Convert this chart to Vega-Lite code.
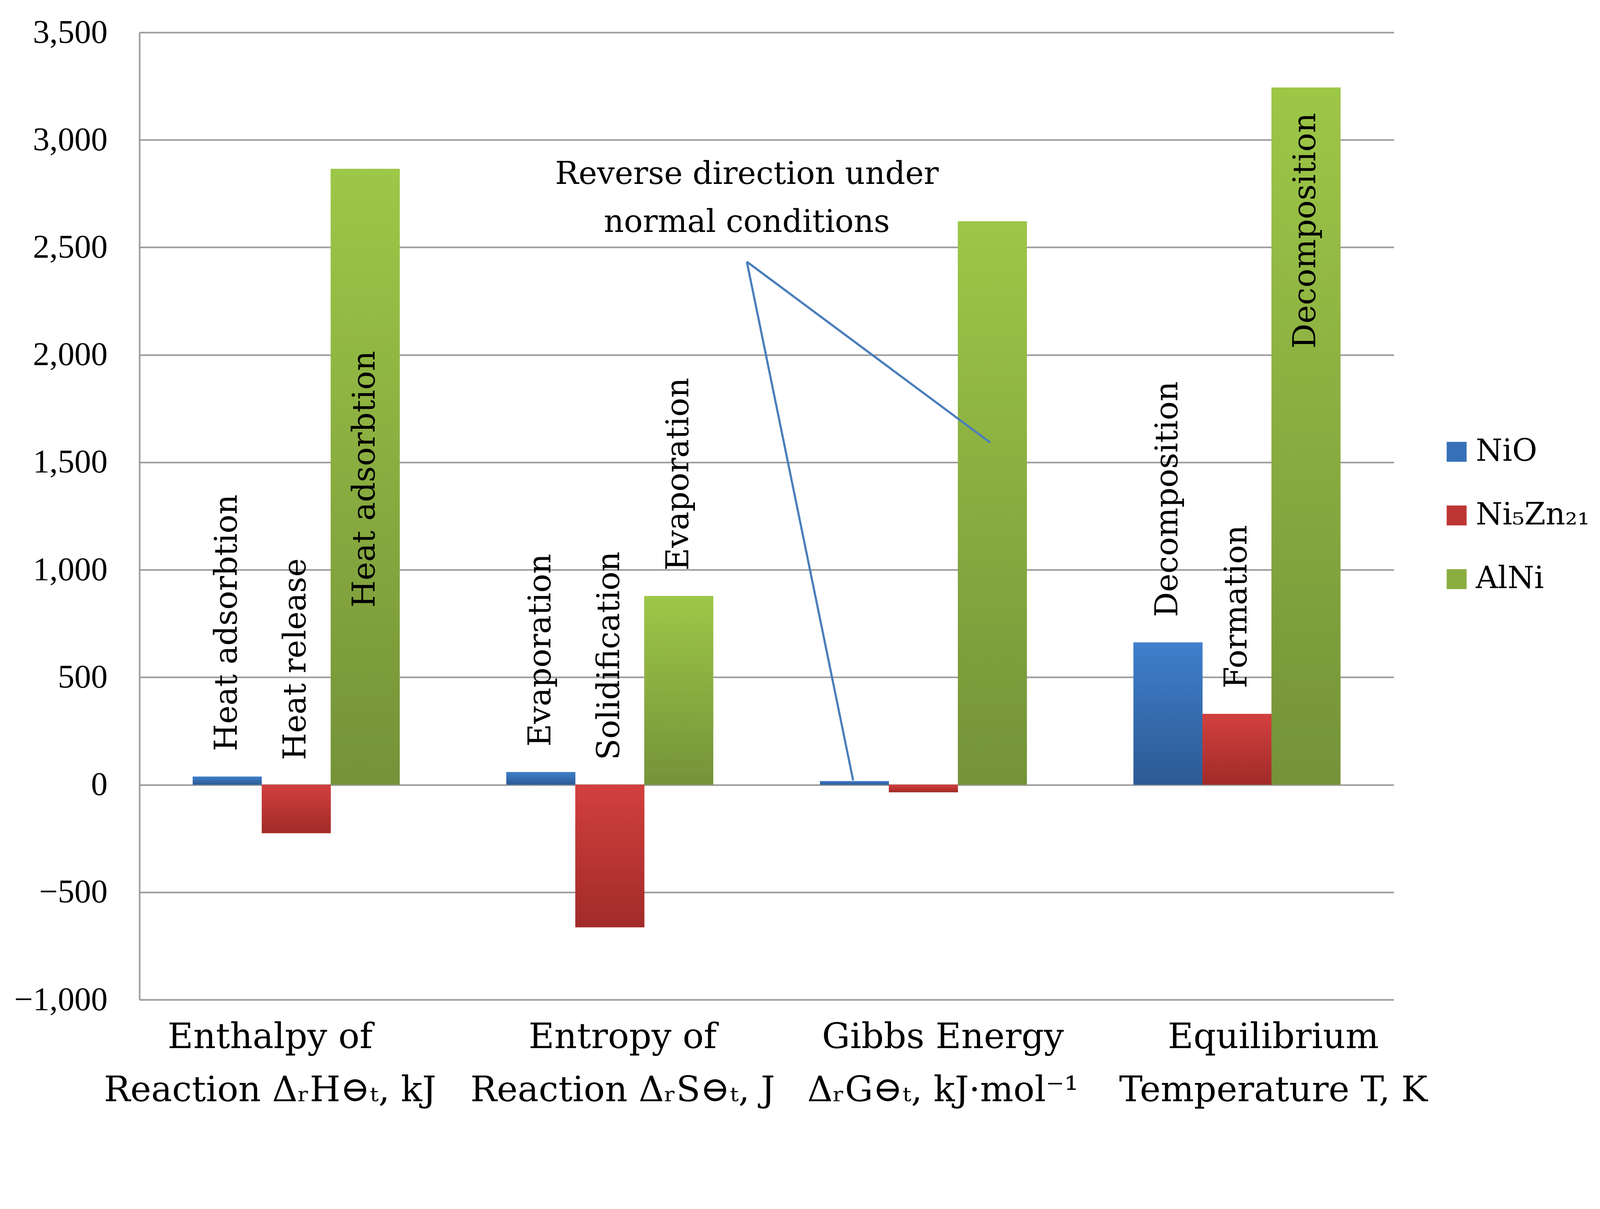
{
  "$schema": "https://vega.github.io/schema/vega-lite/v6.json",
  "width": 3211,
  "height": 2477,
  "autosize": {"type": "none"},
  "padding": {"left": 357, "top": 83, "right": 524, "bottom": 325},
  "background": "white",
  "config": {"view": {"stroke": null}, "font": "DejaVu Serif"},
  "datasets": {
    "bars": [
      {"category": "Enthalpy of|Reaction ΔᵣH⊖ₜ, kJ", "series": "NiO", "value": 38, "label": "Heat adsorbtion"},
      {"category": "Enthalpy of|Reaction ΔᵣH⊖ₜ, kJ", "series": "Ni₅Zn₂₁", "value": -225, "label": "Heat release"},
      {"category": "Enthalpy of|Reaction ΔᵣH⊖ₜ, kJ", "series": "AlNi", "value": 2865, "label": "Heat adsorbtion"},
      {"category": "Entropy of|Reaction ΔᵣS⊖ₜ, J", "series": "NiO", "value": 59, "label": "Evaporation"},
      {"category": "Entropy of|Reaction ΔᵣS⊖ₜ, J", "series": "Ni₅Zn₂₁", "value": -663, "label": "Solidification"},
      {"category": "Entropy of|Reaction ΔᵣS⊖ₜ, J", "series": "AlNi", "value": 878, "label": "Evaporation"},
      {"category": "Gibbs Energy|ΔᵣG⊖ₜ, kJ·mol⁻¹", "series": "NiO", "value": 17, "label": ""},
      {"category": "Gibbs Energy|ΔᵣG⊖ₜ, kJ·mol⁻¹", "series": "Ni₅Zn₂₁", "value": -35, "label": ""},
      {"category": "Gibbs Energy|ΔᵣG⊖ₜ, kJ·mol⁻¹", "series": "AlNi", "value": 2621, "label": ""},
      {"category": "Equilibrium|Temperature T, K", "series": "NiO", "value": 662, "label": "Decomposition"},
      {"category": "Equilibrium|Temperature T, K", "series": "Ni₅Zn₂₁", "value": 330, "label": "Formation"},
      {"category": "Equilibrium|Temperature T, K", "series": "AlNi", "value": 3244, "label": "Decomposition"}
    ],
    "ann": [
      {"x": 1.937, "y": 2433, "x2": 2.276, "y2": 20},
      {"x": 1.937, "y": 2433, "x2": 2.713, "y2": 1592}
    ],
    "note": [
      {"x": 1.937, "y": 2795, "text": "Reverse direction under\nnormal conditions"}
    ]
  },
  "layer": [
    {
      "data": {"name": "bars"},
      "encoding": {
        "x": {
          "field": "category", "type": "nominal", "sort": null,
          "scale": {"paddingInner": 0.34, "paddingOuter": 0.17},
          "axis": {
            "title": null, "labelExpr": "split(datum.label, '|')", "labelAngle": 0,
            "labelFont": "DejaVu Serif", "labelFontSize": 90, "labelLineHeight": 136,
            "labelPadding": 52, "labelBaseline": "top", "domain": false, "ticks": false,
            "grid": false, "labelColor": "black", "labelLimit": 0,
            "labelOffset": {"expr": "[-67, 33, 50, 93][round(datum.index * 3)]"}
          }
        },
        "xOffset": {
          "field": "series", "type": "nominal", "sort": ["NiO", "Ni₅Zn₂₁", "AlNi"],
          "scale": {"paddingInner": 0, "paddingOuter": 0}
        },
        "y": {
          "field": "value", "type": "quantitative",
          "scale": {"domain": [-1000, 3500], "nice": false},
          "axis": {
            "title": null, "values": [-1000, -500, 0, 500, 1000, 1500, 2000, 2500, 3000, 3500],
            "format": ",.0f", "labelFont": "Liberation Serif", "labelFontSize": 85, "labelLimit": 0,
            "labelPadding": 82, "ticks": false, "domain": true, "domainColor": "#9a9a9a",
            "domainWidth": 4, "gridColor": "#9a9a9a", "gridWidth": 4, "labelColor": "black"
          }
        }
      },
      "layer": [
        {
          "mark": {"type": "bar"},
          "encoding": {
            "color": {
              "field": "series", "type": "nominal",
              "scale": {
                "domain": ["NiO", "Ni₅Zn₂₁", "AlNi"],
                "range": ["#3670b8", "#bd3633", "#8aad40"]
              },
              "legend": {
                "title": null, "orient": "none", "legendX": 3333, "legendY": 1035,
                "symbolType": "square", "symbolSize": 2601, "symbolStrokeWidth": 0, "symbolOpacity": 1,
                "labelFont": "DejaVu Serif", "labelFontSize": 78, "labelOffset": 10,
                "rowPadding": 85, "padding": 0, "labelColor": "black", "labelLimit": 0
              }
            }
          }
        },
        {
          "transform": [{"filter": "datum.series == 'NiO'"}],
          "mark": {"type": "bar", "color": {"gradient": "linear", "x1": 0, "y1": 0, "x2": 0, "y2": 1, "stops": [{"offset": 0, "color": "#3f7fcc"}, {"offset": 1, "color": "#2c5a93"}]}}
        },
        {
          "transform": [{"filter": "datum.series == 'Ni₅Zn₂₁'"}],
          "mark": {"type": "bar", "color": {"gradient": "linear", "x1": 0, "y1": 0, "x2": 0, "y2": 1, "stops": [{"offset": 0, "color": "#d2403e"}, {"offset": 1, "color": "#a12b29"}]}}
        },
        {
          "transform": [{"filter": "datum.series == 'AlNi'"}],
          "mark": {"type": "bar", "color": {"gradient": "linear", "x1": 0, "y1": 0, "x2": 0, "y2": 1, "stops": [{"offset": 0, "color": "#9dc747"}, {"offset": 1, "color": "#759239"}]}}
        },
        {
          "transform": [{"filter": "datum.value > 0 && datum.label != '' && !(datum.series == 'AlNi' && (test(/^Enthalpy/, datum.category) || test(/^Equilibrium/, datum.category)))"}],
          "mark": {"type": "text", "angle": 270, "align": "left", "baseline": "middle", "dx": 65, "fontSize": 80, "font": "DejaVu Serif", "color": "black"},
          "encoding": {"text": {"field": "label"}}
        },
        {
          "transform": [{"filter": "datum.value < 0 && datum.label != ''"}],
          "mark": {"type": "text", "angle": 270, "align": "left", "baseline": "middle", "dx": 63, "fontSize": 80, "font": "DejaVu Serif", "color": "black"},
          "encoding": {"y": {"datum": 0, "type": "quantitative"}, "text": {"field": "label"}}
        },
        {
          "transform": [{"filter": "datum.series == 'AlNi' && test(/^Enthalpy/, datum.category)"}],
          "mark": {"type": "text", "angle": 270, "align": "right", "baseline": "middle", "dx": -466, "fontSize": 80, "font": "DejaVu Serif", "color": "black"},
          "encoding": {"text": {"field": "label"}}
        },
        {
          "transform": [{"filter": "datum.series == 'AlNi' && test(/^Equilibrium/, datum.category)"}],
          "mark": {"type": "text", "angle": 270, "align": "right", "baseline": "middle", "dx": -65, "fontSize": 80, "font": "DejaVu Serif", "color": "black"},
          "encoding": {"text": {"field": "label"}}
        }
      ]
    },
    {
      "layer": [
        {
          "data": {"name": "ann"},
          "mark": {"type": "rule", "color": "#4a7ebb", "strokeWidth": 5.5},
          "encoding": {
            "x": {"field": "x", "type": "quantitative", "scale": {"domain": [0, 4], "nice": false, "zero": false}, "axis": null},
            "y": {"field": "y", "type": "quantitative"},
            "x2": {"field": "x2"},
            "y2": {"field": "y2"}
          }
        },
        {
          "data": {"name": "note"},
          "mark": {"type": "text", "fontSize": 80, "font": "DejaVu Serif", "align": "center", "baseline": "alphabetic", "lineBreak": "\n", "lineHeight": 123, "color": "black"},
          "encoding": {
            "x": {"field": "x", "type": "quantitative", "scale": {"domain": [0, 4], "nice": false, "zero": false}, "axis": null},
            "y": {"field": "y", "type": "quantitative"},
            "text": {"field": "text"}
          }
        }
      ]
    }
  ],
  "resolve": {"scale": {"x": "independent"}}
}
